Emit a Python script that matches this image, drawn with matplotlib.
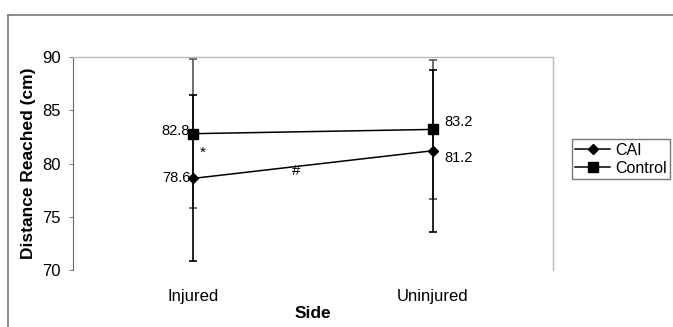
import matplotlib
matplotlib.use("Agg")
import matplotlib.pyplot as plt
from matplotlib.lines import Line2D

plt.rcParams['font.family'] = ['Liberation Sans', 'DejaVu Sans']

sides = ['Injured', 'Uninjured']
cai_mean = [78.6, 81.2]
cai_sd = [7.8, 7.6]
control_mean = [82.8, 83.2]
control_sd = [7.0, 6.5]
yticks = [70, 75, 80, 85, 90]

fig = plt.figure(figsize=(6.73, 3.27), dpi=100)
ax = fig.add_axes([0.1085, 0.1743, 0.713, 0.6514])
x = [1, 2]

# error bars first so markers sit on top
ax.errorbar(x, control_mean, yerr=control_sd, fmt='none', ecolor='#555555',
            elinewidth=1.2, capsize=3, capthick=1.2, zorder=2)
ax.errorbar(x, cai_mean, yerr=cai_sd, fmt='none', ecolor='black',
            elinewidth=1.2, capsize=3, capthick=1.2, zorder=2)

ax.plot(x, cai_mean, color='black', lw=1.1, marker='D', markersize=5.5, label='CAI', zorder=3)
ax.plot(x, control_mean, color='black', lw=1.1, marker='s', markersize=7.5, label='Control', zorder=3)

# value labels
ax.annotate(f'{cai_mean[0]}', (x[0], cai_mean[0]), xytext=(-2, 0), textcoords='offset points',
            ha='right', va='center', fontsize=10.5)
ax.annotate(f'{control_mean[0]}', (x[0], control_mean[0]), xytext=(-2, 2), textcoords='offset points',
            ha='right', va='center', fontsize=10.5)
ax.annotate(f'{control_mean[1]}', (x[1], control_mean[1]), xytext=(8, 5), textcoords='offset points',
            ha='left', va='center', fontsize=10.5)
ax.annotate(f'{cai_mean[1]}', (x[1], cai_mean[1]), xytext=(8, -5), textcoords='offset points',
            ha='left', va='center', fontsize=10.5)

# significance markers
ax.text(1.04, 81.0, '*', ha='center', va='center', fontsize=11)
ax.text(1.43, 79.3, '#', ha='center', va='center', fontsize=11)

ax.set_xlim(0.5, 2.5)
ax.set_ylim(70, 90)
ax.set_xticks(x)
ax.set_xticklabels(sides, fontsize=12)
ax.set_yticks(yticks)
ax.set_yticklabels([str(v) for v in yticks], fontsize=12)
ax.tick_params(axis='x', length=0, pad=14)
ax.tick_params(axis='y', length=3, color='#888888', pad=6)
ax.set_xlabel('Side', fontsize=12.5, fontweight='bold', labelpad=1)
ax.set_ylabel('Distance Reached (cm)', fontsize=12.5, fontweight='bold', labelpad=4)

for s in ['top', 'right', 'bottom']:
    ax.spines[s].set_color('#bbbbbb')
    ax.spines[s].set_linewidth(1)
ax.spines['bottom'].set_visible(False)
ax.spines['left'].set_color('#666666')

ax.legend(loc='center left', bbox_to_anchor=(1.04, 0.52), fontsize=11.5, frameon=True,
          fancybox=False, edgecolor='#555555', handlelength=2.2, borderpad=0.2,
          labelspacing=0.2, handletextpad=0.3, borderaxespad=0)

# outer chart border
fig.add_artist(Line2D([8 / 673, 8 / 673], [1 - 15 / 327, 0], color='#777777', lw=1.2))
fig.add_artist(Line2D([8 / 673, 1], [1 - 15 / 327, 1 - 15 / 327], color='#777777', lw=1.2))

fig.savefig('out.png', dpi=100)
